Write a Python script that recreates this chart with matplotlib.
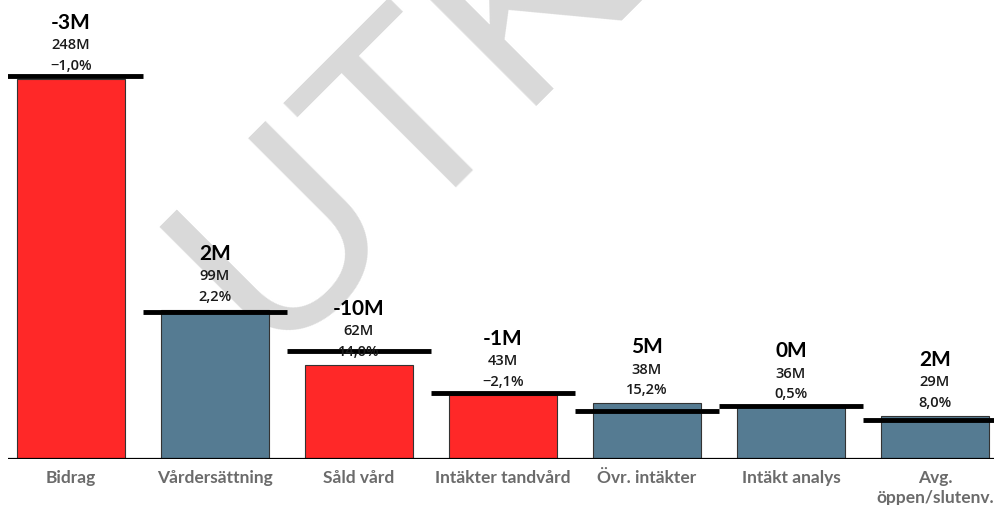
import matplotlib
matplotlib.use("Agg")
import matplotlib.pyplot as plt

categories = ["Bidrag", "Vårdersättning", "Såld vård", "Intäkter tandvård",
              "Övr. intäkter", "Intäkt analys", "Avg.\nöppen/slutenv."]
actual = [250.0, 98.2, 61.8, 42.3, 36.6, 34.0, 28.3]
target = [251.8, 96.9, 71.3, 43.2, 31.8, 34.9, 25.7]
diff_labels = ["-3M", "2M", "-10M", "-1M", "5M", "0M", "2M"]
value_labels = ["248M", "99M", "62M", "43M", "38M", "36M", "29M"]
pct_labels = ["\u22121,0%", "2,2%", "14,0%", "\u22122,1%", "15,2%", "0,5%", "8,0%"]
is_negative = [True, False, True, True, False, False, False]

RED = "#ff2828"
BLUE = "#557b92"
FONT = ["Lato", "DejaVu Sans"]
FONT2 = ["Open Sans", "DejaVu Sans"]

W, H = 995, 506
fig = plt.figure(figsize=(W / 100, H / 100), dpi=100)
fig.patch.set_facecolor("white")

# watermark
fig.text(267.5 / W, 1 - 355 / H, "UTKAST", fontsize=190, color="#d9d9d9",
         family=["Liberation Sans", "DejaVu Sans"], rotation=45,
         rotation_mode="anchor", ha="left", va="baseline", zorder=-5)

ax = fig.add_axes([8 / W, 1 - 460 / H, (W - 8) / W, 460 / H])
ax.patch.set_visible(False)

x = list(range(len(categories)))
colors = [RED if n else BLUE for n in is_negative]
ax.bar(x, actual, width=0.75, color=colors, edgecolor="#333333", linewidth=0.8, zorder=2)

for i, t in enumerate(target):
    ax.plot([i - 0.5, i + 0.5], [t, t], color="black", linewidth=3.5,
            solid_capstyle="butt", zorder=3)

for i, v in enumerate(actual):
    ax.annotate(pct_labels[i], (i, v), xytext=(0, 10), textcoords="offset points",
                ha="center", va="center", fontsize=10.5, family=FONT2, weight="semibold",
                color="#1a1a1a", zorder=4)
    ax.annotate(value_labels[i], (i, v), xytext=(0, 25), textcoords="offset points",
                ha="center", va="center", fontsize=10.5, family=FONT2, weight="semibold",
                color="#1a1a1a", zorder=4)
    ax.annotate(diff_labels[i], (i, v), xytext=(0, 41), textcoords="offset points",
                ha="center", va="center", fontsize=15, family=FONT, weight="bold",
                color="black", zorder=4)

ax.axhline(0, color="black", linewidth=1.6, zorder=5)
ax.set_xlim(-0.4375, 6.4167)
ax.set_ylim(0, 460 / 1.52)
ax.set_xticks(x)
ax.set_xticklabels(categories, fontsize=12.5, family=FONT, weight="bold",
                   color="#6b6b6b", linespacing=1.35, va="top")
ax.tick_params(axis="x", length=0, pad=7)
ax.set_yticks([])
for s in ax.spines.values():
    s.set_visible(False)

fig.savefig("out.png", dpi=100)
